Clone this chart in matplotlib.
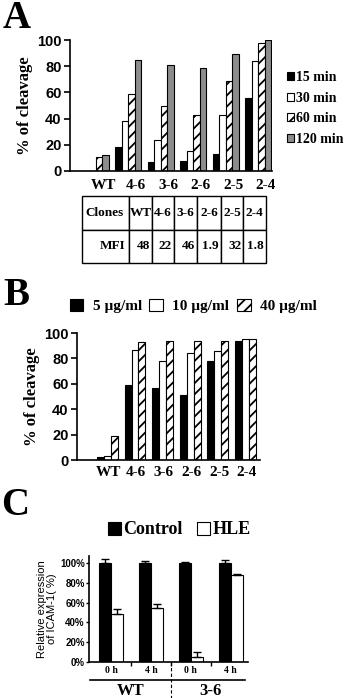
import numpy as np
import matplotlib
matplotlib.use('Agg')
from matplotlib import pyplot as plt
from matplotlib.ticker import FuncFormatter

# panel A: cleavage over time per clone
clones = ['WT', '4-6', '3-6', '2-6', '2-5', '2-4']
times = ['15 min', '30 min', '60 min', '120 min']
cleave_15 = [0, 18, 7, 8, 13, 56]
cleave_30 = [0, 38, 24, 15, 43, 84]
cleave_60 = [11, 59, 50, 43, 69, 98]
cleave_120 = [12, 85, 81, 79, 89, 100]
mfi = ['48', '22', '46', '1.9', '32', '1.8']

# panel B: cleavage per dose
doses = ['5 µg/ml', '10 µg/ml', '40 µg/ml']
dose_5 = [2, 59, 57, 51, 78, 94]
dose_10 = [3, 87, 78, 84, 86, 95]
dose_40 = [19, 93, 94, 94, 94, 95]

# panel C: ICAM-1 expression
hours = ['0 h', '4 h', '0 h', '4 h']
cell_lines = ['WT', '3-6']
control = [100, 100, 100, 100]
control_err = [4, 1.5, 0.5, 3]
hle = [48, 55, 5, 88]
hle_err = [5, 4, 5, 1]

W, H = 346, 698
SERIF = 'Liberation Serif'
SANS = 'Liberation Sans'

plt.rcParams['hatch.linewidth'] = 1.3
plt.rcParams['axes.linewidth'] = 1.2


def px_axes(fig, left, top, right, bottom):
    return fig.add_axes([left / W, 1 - bottom / H,
                         (right - left) / W, (bottom - top) / H])


def letter(fig, x, y, s):
    fig.text(x / W, 1 - y / H, s, fontsize=28, weight='bold',
             family=SERIF, va='top', ha='left')


def clean(ax):
    for s in ['top', 'right']:
        ax.spines[s].set_visible(False)


def bar_styles(n):
    base = [dict(color='black'), dict(color='white'),
            dict(color='white', hatch='///'), dict(color='#8c8c8c')]
    return base[:n]


def bold_ticks(ax, size):
    for t in ax.get_yticklabels():
        t.set_fontsize(size)
        t.set_weight('bold')
        t.set_family(SANS)


fig = plt.figure(figsize=(W / 100, H / 100), dpi=100)

# ---------------- A
letter(fig, 3, 0, 'A')
ax = px_axes(fig, 70, 40, 272, 171)
clean(ax)
x = np.arange(len(clones))
w = 0.2
series = [cleave_15, cleave_30, cleave_60, cleave_120]
handles = []
for i, (vals, st) in enumerate(zip(series, bar_styles(4))):
    b = ax.bar(x + (i - 1.5) * w, vals, w, facecolor=st['color'],
               hatch=st.get('hatch'), edgecolor='black', linewidth=0.8,
               label=times[i])
    handles.append(b)
ax.set_xlim(-0.785, 5.43)
ax.set_ylim(0, 100)
ax.set_yticks(range(0, 101, 20))
ax.set_xticks(x + 0.24)
ax.set_xticklabels(clones, fontsize=11, weight='bold', family=SERIF)
ax.tick_params(axis='x', length=0, pad=6)
ax.tick_params(axis='y', length=4, width=1.2, pad=2)
bold_ticks(ax, 10.5)
ax.set_ylabel('% of cleavage', fontsize=12, weight='bold', family=SERIF,
              labelpad=3)
fig.legend(handles=handles, loc='upper left',
           bbox_to_anchor=(280 / W, 1 - 64 / H), frameon=False,
           handlelength=0.5, handleheight=0.5, handletextpad=0.12,
           labelspacing=0.55, borderpad=0,
           prop=dict(family=SERIF, weight='bold', size=10))

# table of MFI
tax = px_axes(fig, 82, 196, 266, 263)
tax.axis('off')
col_w = [47, 23, 22, 23, 24, 22, 23]
tab = tax.table(cellText=[['Clones'] + clones, ['MFI'] + mfi],
                colWidths=[c / sum(col_w) for c in col_w],
                cellLoc='right', bbox=[0, 0, 1, 1])
tab.auto_set_font_size(False)
for (r, c), cell in tab.get_celld().items():
    cell.set_linewidth(1.0)
    cell.PAD = 0.08
    txt = cell.get_text()
    txt.set_fontsize(9.5)
    txt.set_family(SERIF)
    txt.set_weight('bold')
    if r == 0:
        cell._loc = 'center' if c > 0 else 'left'
        txt.set_ha(cell._loc)

# ---------------- B
letter(fig, 3, 277, 'B')
ax = px_axes(fig, 77, 333, 260, 460)
clean(ax)
w = 0.25
series = [dose_5, dose_10, dose_40]
handles = []
for i, (vals, st) in enumerate(zip(series, bar_styles(3))):
    b = ax.bar(x + (i - 1) * w, vals, w, facecolor=st['color'],
               hatch=st.get('hatch'), edgecolor='black', linewidth=0.8,
               label=doses[i])
    handles.append(b)
ax.set_xlim(-1.1, 5.53)
ax.set_ylim(0, 100)
ax.set_yticks(range(0, 101, 20))
ax.set_xticks(x + 0.05)
ax.set_xticklabels(clones, fontsize=11, weight='bold', family=SERIF)
ax.tick_params(axis='x', length=0, pad=4)
ax.tick_params(axis='y', length=4, width=1.2, pad=2)
bold_ticks(ax, 10.5)
ax.set_ylabel('% of cleavage', fontsize=12, weight='bold', family=SERIF,
              labelpad=3)
fig.legend(handles=handles, loc='center left', ncol=3,
           bbox_to_anchor=(62 / W, 1 - 306 / H), frameon=False,
           handlelength=0.9, handleheight=0.9, handletextpad=0.6,
           columnspacing=0.5, borderpad=0,
           prop=dict(family=SERIF, weight='bold', size=11))

# ---------------- C
letter(fig, 1, 487, 'C')
ax = px_axes(fig, 89, 556, 248, 662)
clean(ax)
xc = np.arange(len(hours))
w = 0.3
hb = []
hb.append(ax.bar(xc - w / 2, control, w, color='black', edgecolor='black',
                 linewidth=0.8, label='Control'))
hb.append(ax.bar(xc + w / 2, hle, w, color='white', edgecolor='black',
                 linewidth=0.8, label='HLE'))
ax.errorbar(xc - w / 2, control, yerr=[np.zeros(4), control_err], fmt='none',
            ecolor='black', elinewidth=1, capsize=3, capthick=1)
ax.errorbar(xc + w / 2, hle, yerr=[np.zeros(4), hle_err], fmt='none',
            ecolor='black', elinewidth=1, capsize=3, capthick=1)
ax.set_xlim(-0.55, 3.43)
ax.set_ylim(0, 107)
ax.set_yticks(range(0, 101, 20))
ax.yaxis.set_major_formatter(FuncFormatter(lambda v, p: f'{v:.0f}%'))
ax.tick_params(axis='y', length=2, width=1, pad=1)
bold_ticks(ax, 7)
ax.set_xticks(xc)
ax.set_xticklabels(hours, fontsize=7, weight='bold', family=SERIF)
ax.set_xticks(xc[:-1] + 0.5, minor=True)
ax.tick_params(axis='x', which='major', length=0, pad=3)
ax.tick_params(axis='x', which='minor', length=3, width=1)
ax.set_ylabel('Relative expression\nof ICAM-1( %)', fontsize=8,
              family=SANS, linespacing=1.1, labelpad=2)
trans = ax.get_xaxis_transform()
ax.plot([-0.52, 3.35], [-0.17, -0.17], color='black', lw=1.2,
        transform=trans, clip_on=False)
ax.plot([1.5, 1.5], [0, -0.35], color='black', lw=0.8, ls=(0, (3, 2)),
        transform=trans, clip_on=False)
for i, name in enumerate(cell_lines):
    ax.text(0.5 + 2 * i, -0.27, name, transform=trans, ha='center',
            va='center', fontsize=12, weight='bold', family=SERIF)
fig.legend(handles=hb, loc='center left', ncol=2,
           bbox_to_anchor=(99 / W, 1 - 530 / H), frameon=False,
           handlelength=0.7, handleheight=0.7, handletextpad=0.15,
           columnspacing=0.8, borderpad=0,
           prop=dict(family=SERIF, weight='bold', size=13))

fig.savefig('out.png', dpi=100)
